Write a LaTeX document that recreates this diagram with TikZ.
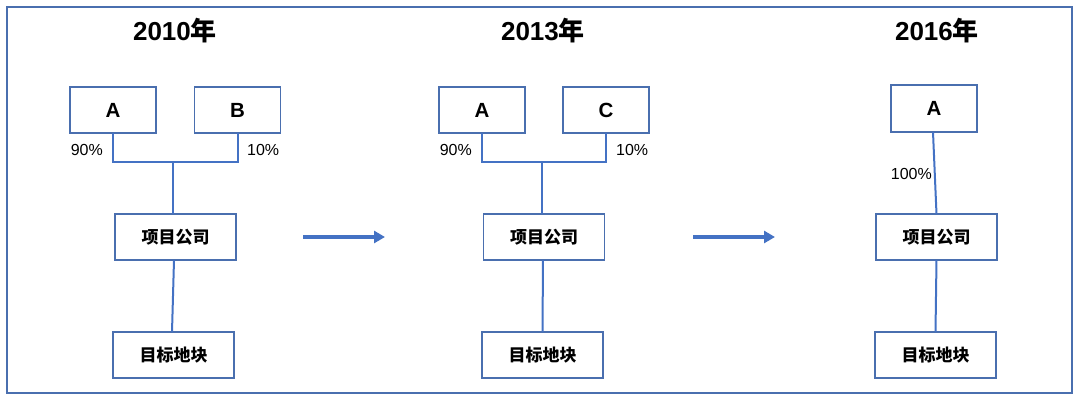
\documentclass[tikz,border=0pt]{standalone}
\usepackage{fontspec}
\setmainfont{Liberation Sans}
\newfontfamily\cjk{Noto Sans CJK SC}
\usetikzlibrary{arrows.meta}
\definecolor{boxblue}{HTML}{4A6FAF}
\definecolor{lineblue}{HTML}{4472C4}
\begin{document}
\begin{tikzpicture}[x=1pt,y=-1pt,
  box/.style={draw=boxblue,line width=1.5pt,inner sep=0pt,outer sep=0pt,fill=white},
  letterbox/.style={box,minimum width=86pt,minimum height=46pt,font=\fontsize{20.5}{22}\selectfont\bfseries},
  cnbox/.style={box,minimum width=121pt,minimum height=46pt,font=\fontsize{17}{19}\selectfont\cjk\bfseries},
  conn/.style={draw=lineblue,line width=2pt},
  bigarrow/.style={draw=lineblue,line width=3.2pt,-{Triangle[length=11pt,width=12pt]}},
  pct/.style={inner sep=0pt,font=\fontsize{16}{18}\selectfont},
  title/.style={inner sep=0pt,font=\fontsize{26}{28}\selectfont\bfseries}]
\useasboundingbox (0,0) rectangle (1080,401);
\draw[draw=boxblue,line width=1.3pt] (7,7) rectangle (1072,393);
% titles
\node[title] (t1) at (175,31) {2010{\cjk 年}};
\node[title] (t2) at (543,31) {2013{\cjk 年}};
\node[title] (t3) at (937,31) {2016{\cjk 年}};
% column 1
\node[letterbox] (A1) at (113,110) {A};
\node[letterbox] (B1) at (237.5,110) {B};
\node[cnbox] (P1) at (175.5,237) {项目公司};
\node[cnbox] (T1) at (173.5,355) {目标地块};
\coordinate (h1) at (173,162);
\draw[conn] (A1.south) -- (A1.south |- h1) -- (B1.south |- h1) -- (B1.south);
\draw[conn] (h1) -- (h1 |- P1.north);
\draw[conn] ([xshift=-1.5pt]P1.south) -- ([xshift=-1.5pt]T1.north);
\node[pct,anchor=east] (p1a) at (103,150) {90\%};
\node[pct,anchor=west] (p1b) at (247,150) {10\%};
% column 2
\node[letterbox] (A2) at (482,110) {A};
\node[letterbox] (C2) at (606,110) {C};
\node[cnbox] (P2) at (544,237) {项目公司};
\node[cnbox] (T2) at (542.5,355) {目标地块};
\coordinate (h2) at (542,162);
\draw[conn] (A2.south) -- (A2.south |- h2) -- (C2.south |- h2) -- (C2.south);
\draw[conn] (h2) -- (h2 |- P2.north);
\draw[conn] ([xshift=-1pt]P2.south) -- (T2.north);
\node[pct,anchor=east] (p2a) at (472,150) {90\%};
\node[pct,anchor=west] (p2b) at (616,150) {10\%};
% column 3
\node[box,minimum width=86pt,minimum height=47pt,font=\fontsize{20.5}{22}\selectfont\bfseries] (A3) at (934,108.5) {A};
\node[cnbox] (P3) at (936.5,237) {项目公司};
\node[cnbox] (T3) at (935.5,355) {目标地块};
\draw[conn] ([xshift=-1pt]A3.south) -- (P3.north);
\draw[conn] (P3.south) -- (T3.north);
\node[pct,anchor=east] (p3) at (932,174) {100\%};
% arrows
\coordinate (a1s) at (303,237);
\coordinate (a1e) at (385,237);
\coordinate (a2s) at (693,237);
\coordinate (a2e) at (775,237);
\draw[bigarrow] (a1s) -- (a1e);
\draw[bigarrow] (a2s) -- (a2e);
\end{tikzpicture}
\end{document}
